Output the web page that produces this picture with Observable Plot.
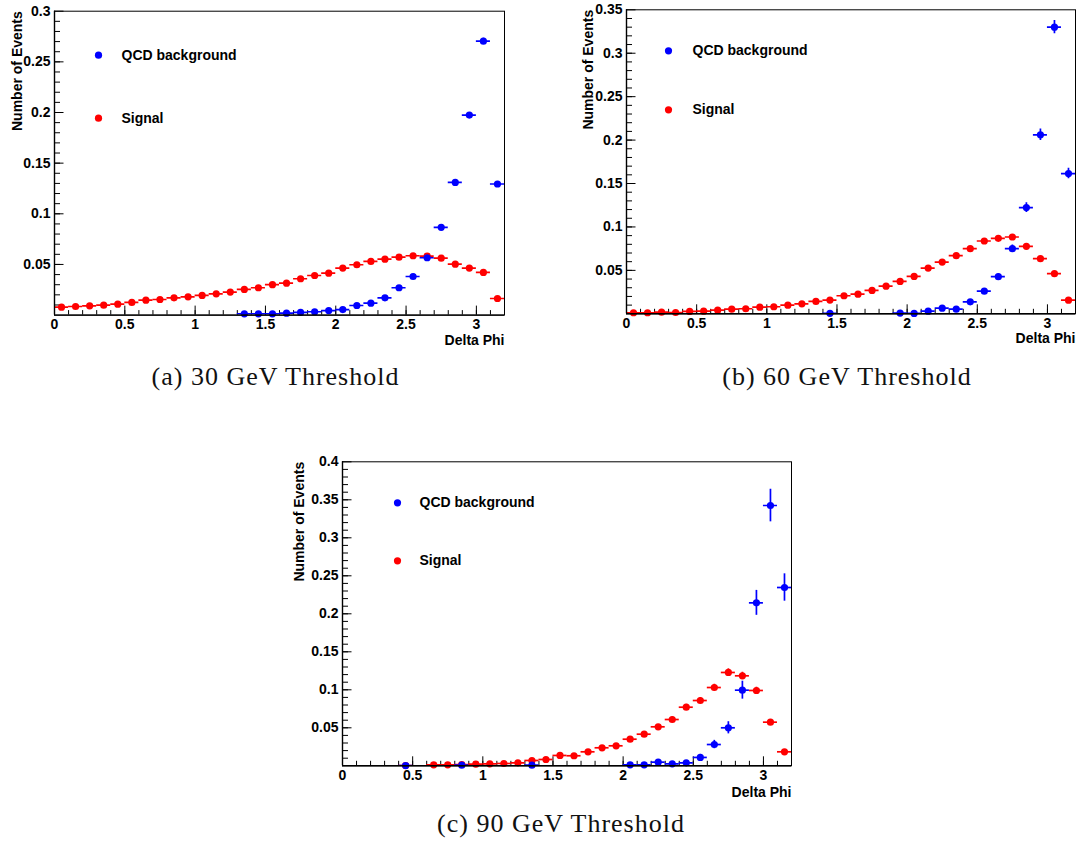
<!DOCTYPE html>
<html><head><meta charset="utf-8">
<script src="https://cdn.jsdelivr.net/npm/d3@7"></script>
<script src="https://cdn.jsdelivr.net/npm/@observablehq/plot@0.6"></script>
<style>
body{margin:0;background:#fff;}
#fig{position:relative;width:1078px;height:846px;background:#fff;overflow:hidden}
.panel{position:absolute}
.cap{position:absolute;font-family:"Liberation Serif","Times New Roman",serif;font-size:26px;letter-spacing:1px;color:#111;white-space:nowrap;transform:translate(-50%,-50%)}
</style></head><body><div id="fig"></div>
<script>
// Delta Phi bin centres (bin width 0.1)
const binCenters = [0.05,0.15,0.25,0.35,0.45,0.55,0.65,0.75,0.85,0.95,1.05,1.15,1.25,1.35,1.45,1.55,1.65,1.75,1.85,1.95,2.05,2.15,2.25,2.35,2.45,2.55,2.65,2.75,2.85,2.95,3.05,3.15];
const xTickLabels = [0,0.5,1,1.5,2,2.5,3];

// (a) 30 GeV threshold
const sig30 = [0.0078,0.0085,0.0092,0.0098,0.0108,0.0125,0.0147,0.0154,0.0171,0.018,0.0194,0.021,0.0227,0.0253,0.027,0.030,0.0315,0.0359,0.0391,0.0414,0.0464,0.0497,0.053,0.0552,0.0572,0.0586,0.0582,0.0562,0.0503,0.0464,0.0421,0.0164];
const sig30Err = [0.0005,0.0005,0.0005,0.0005,0.0005,0.0006,0.0006,0.0006,0.0007,0.0007,0.0007,0.0007,0.0008,0.0008,0.0008,0.0009,0.0009,0.0009,0.001,0.001,0.001,0.0011,0.0011,0.0011,0.0012,0.0012,0.0012,0.0012,0.0011,0.0011,0.001,0.0007];
const bkg30 = [null,null,null,null,null,null,null,null,null,null,null,null,null,0.0013,0.0013,0.0013,0.0019,0.0026,0.0033,0.0045,0.0055,0.0095,0.0118,0.0171,0.027,0.0381,0.0566,0.0866,0.131,0.1975,0.2704,0.1294];
const bkg30Err = [0,0,0,0,0,0,0,0,0,0,0,0,0,0.0003,0.0003,0.0003,0.0004,0.0004,0.0005,0.0005,0.0006,0.0008,0.0009,0.001,0.0012,0.0014,0.0016,0.0019,0.0022,0.0026,0.003,0.0021];
const yTicks30 = [0.05,0.1,0.15,0.2,0.25,0.3];

// (b) 60 GeV threshold
const sig60 = [0.0012,0.0012,0.0019,0.0015,0.0027,0.003,0.0042,0.0053,0.0058,0.0076,0.0081,0.0099,0.0115,0.0142,0.0158,0.0208,0.0226,0.0269,0.0318,0.0373,0.043,0.0526,0.0596,0.0669,0.075,0.0838,0.0869,0.0884,0.0777,0.0635,0.0462,0.0157];
const sig60Err = [0.0003,0.0003,0.0004,0.0003,0.0004,0.0004,0.0005,0.0006,0.0006,0.0007,0.0007,0.0008,0.0008,0.0009,0.001,0.0011,0.0012,0.0013,0.0014,0.0015,0.0016,0.0018,0.0019,0.002,0.0021,0.0022,0.0023,0.0023,0.0022,0.002,0.0017,0.001];
const bkg60 = [null,null,null,null,null,null,null,null,null,null,null,null,null,null,0.0005,null,null,null,null,0.0008,0.0004,0.003,0.0065,0.0053,0.0138,0.0261,0.0427,0.075,0.1223,0.2061,0.33,0.1615];
const bkg60Err = [0,0,0,0,0,0,0,0,0,0,0,0,0,0,0.0005,0,0,0,0,0.0006,0.0004,0.0012,0.0018,0.0016,0.0025,0.0028,0.0032,0.0042,0.0056,0.0066,0.0077,0.006];
const yTicks60 = [0.05,0.1,0.15,0.2,0.25,0.3,0.35];

// (c) 90 GeV threshold
const sig90 = [null,null,null,null,0.0004,null,0.0013,0.0013,0.0017,0.0021,0.0026,0.003,0.0039,0.007,0.0083,0.0136,0.0132,0.0184,0.0237,0.0263,0.035,0.0416,0.0513,0.0609,0.0771,0.0859,0.103,0.1228,0.1184,0.0991,0.0574,0.0184];
const sig90Err = [0,0,0,0,0.0003,0,0.0005,0.0005,0.0006,0.0006,0.0007,0.0007,0.0008,0.0011,0.0012,0.0015,0.0015,0.0018,0.002,0.0021,0.0025,0.0027,0.003,0.0033,0.0037,0.0039,0.0043,0.0048,0.0047,0.0043,0.0032,0.0018];
const bkg90 = [null,null,null,null,0.0003,null,null,null,0.0008,null,null,null,null,0.0008,null,null,null,null,null,null,0.0013,0.0013,0.0048,0.0026,0.0039,0.011,0.028,0.05,0.0995,0.2144,0.3425,0.2346];
const bkg90Err = [0,0,0,0,0.0003,0,0,0,0.0008,0,0,0,0,0.0008,0,0,0,0,0,0,0.0013,0.0013,0.0025,0.002,0.0025,0.004,0.0055,0.008,0.0118,0.0164,0.0215,0.018];
const yTicks90 = [0.05,0.1,0.15,0.2,0.25,0.3,0.35,0.4];

const seriesNames = ["QCD background","Signal"];
const seriesColors = ["#0000ff","#ff0000"];
const captions = ["(a) 30 GeV Threshold","(b) 60 GeV Threshold","(c) 90 GeV Threshold"];

const FONT = "'Liberation Sans', Arial, Helvetica, sans-serif";
const fig = document.getElementById("fig");

function rows(vals, errs, name) {
  return binCenters.map((x, i) => ({x, y: vals[i], e: errs[i], name})).filter(d => d.y != null);
}

function panel(cfg) {
  const {sig, sigErr, bkg, bkgErr, yMax, yTicks, left, top, width, height, mL, mR, mT, mB, leg, caption, capX, capY} = cfg;
  const plotW = width - mL - mR, plotH = height - mT - mB;
  const data = [...rows(sig, sigErr, "Signal"), ...rows(bkg, bkgErr, "QCD background")];
  const yMinor = d3.range(1, Math.round(yMax * 100)).map(k => k / 100);
  const xMinor = d3.range(1, 32).map(k => k / 10);
  const col = d => d.name === "Signal" ? seriesColors[1] : seriesColors[0];
  const chart = Plot.plot({
    width, height, marginLeft: mL, marginRight: mR, marginTop: mT, marginBottom: mB,
    style: {fontFamily: FONT, fontSize: "14px", background: "white", overflow: "visible"},
    x: {domain: [0, 3.2]},
    y: {domain: [0, yMax]},
    marks: [
      Plot.tickY(yMinor, {y: d => d, stroke: "#000", strokeWidth: 1, insetRight: plotW - 6}),
      Plot.tickY(yTicks, {y: d => d, stroke: "#000", strokeWidth: 1, insetRight: plotW - 9.5}),
      Plot.tickX(xMinor, {x: d => d, stroke: "#000", strokeWidth: 1, insetTop: plotH - 4.5}),
      Plot.tickX(xTickLabels, {x: d => d, stroke: "#000", strokeWidth: 1, insetTop: plotH - 9}),
      Plot.axisY(yTicks, {tickSize: 0, tickPadding: 4, fontSize: 14, fontWeight: "bold", fill: "#000", tickFormat: d => String(d), label: null}),
      Plot.axisX(xTickLabels, {tickSize: 0, tickPadding: 4, fontSize: 14, fontWeight: "bold", fill: "#000", tickFormat: d => String(d), label: null}),
      Plot.ruleY(data, {x1: d => d.x - 0.05, x2: d => d.x + 0.05, y: "y", stroke: col, strokeWidth: 1.7, clip: true}),
      Plot.ruleX(data, {x: "x", y1: d => Math.max(0, d.y - d.e), y2: d => d.y + d.e, stroke: col, strokeWidth: 1.7, clip: true}),
      Plot.dot(data, {x: "x", y: "y", r: 3.6, fill: col, stroke: null}),
      Plot.frame({stroke: "#000", strokeWidth: 1}),
      Plot.ruleX([0], {stroke: "#000", strokeWidth: 1.4}),
      Plot.ruleY([0], {stroke: "#000", strokeWidth: 1.4}),
      Plot.text(["Number of Events"], {text: d => d, frameAnchor: "top-left", rotate: -90, textAnchor: "end", lineAnchor: "middle", dx: leg.ylx, dy: 0, fontSize: 14, fontWeight: "bold", fill: "#000"}),
      Plot.text(["Delta Phi"], {text: d => d, frameAnchor: "bottom-right", textAnchor: "end", lineAnchor: "middle", dy: leg.xly, fontSize: 14, fontWeight: "bold", fill: "#000"}),
      Plot.dot([seriesNames[0]], {frameAnchor: "top-left", dx: leg.mx, dy: leg.y1, r: 3.6, fill: seriesColors[0]}),
      Plot.dot([seriesNames[1]], {frameAnchor: "top-left", dx: leg.mx, dy: leg.y2, r: 3.6, fill: seriesColors[1]}),
      Plot.text([seriesNames[0]], {text: d => d, frameAnchor: "top-left", dx: leg.tx, dy: leg.y1, textAnchor: "start", lineAnchor: "middle", fontSize: 14, fontWeight: "bold", fill: "#000"}),
      Plot.text([seriesNames[1]], {text: d => d, frameAnchor: "top-left", dx: leg.tx, dy: leg.y2, textAnchor: "start", lineAnchor: "middle", fontSize: 14, fontWeight: "bold", fill: "#000"})
    ]
  });
  const wrap = document.createElement("div");
  wrap.className = "panel";
  wrap.style.left = left + "px";
  wrap.style.top = top + "px";
  wrap.appendChild(chart);
  fig.appendChild(wrap);
  const cap = document.createElement("div");
  cap.className = "cap";
  cap.textContent = caption;
  cap.style.left = capX + "px";
  cap.style.top = capY + "px";
  fig.appendChild(cap);
}

panel({sig: sig30, sigErr: sig30Err, bkg: bkg30, bkgErr: bkg30Err, yMax: 0.3, yTicks: yTicks30,
  left: 0, top: 0, width: 520, height: 350, mL: 54, mR: 16, mT: 10.7, mB: 35.4,
  leg: {mx: 44, tx: 67, y1: 44, y2: 107, ylx: -37, xly: 25}, caption: captions[0], capX: 275.5, capY: 377});
panel({sig: sig60, sigErr: sig60Err, bkg: bkg60, bkgErr: bkg60Err, yMax: 0.35, yTicks: yTicks60,
  left: 570, top: 0, width: 508, height: 350, mL: 56, mR: 3, mT: 9.3, mB: 36.7,
  leg: {mx: 42, tx: 66, y1: 41, y2: 100, ylx: -38, xly: 25}, caption: captions[1], capX: 847, capY: 377});
panel({sig: sig90, sigErr: sig90Err, bkg: bkg90, bkgErr: bkg90Err, yMax: 0.4, yTicks: yTicks90,
  left: 290, top: 450, width: 510, height: 350, mL: 52, mR: 9, mT: 11.3, mB: 34.7,
  leg: {mx: 55, tx: 77, y1: 41, y2: 99, ylx: -42.5, xly: 27}, caption: captions[2], capX: 561, capY: 824});
</script>
</body></html>
